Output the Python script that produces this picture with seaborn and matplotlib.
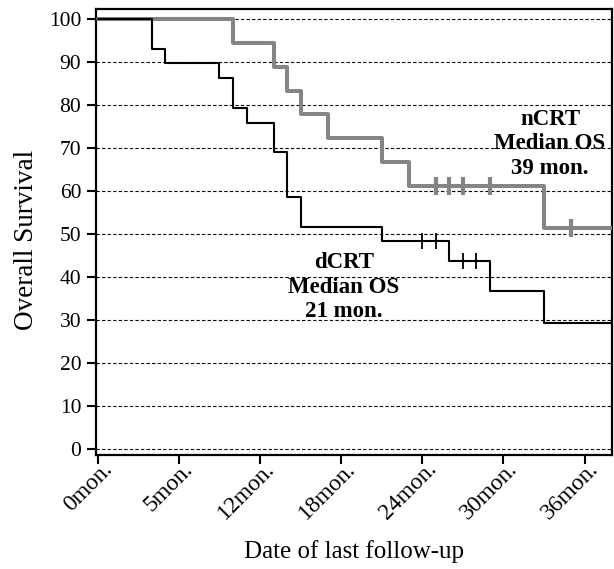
import matplotlib
matplotlib.use("Agg")
import matplotlib.pyplot as plt
import matplotlib.transforms as mtransforms
import pandas as pd
import seaborn as sns

# Kaplan-Meier steps (months, % surviving)
dcrt_time = [0, 4, 5, 9, 10, 11, 13, 14, 15, 21, 26, 29, 33, 38]
dcrt_surv = [100, 93.1, 89.7, 86.2, 79.3, 75.9, 69.0, 58.6, 51.7, 48.3, 43.8, 36.8, 29.4, 29.4]
dcrt_cens_time = [24, 25, 27, 28]
dcrt_cens_surv = [48.3, 48.3, 43.8, 43.8]

ncrt_time = [0, 10, 13, 14, 15, 17, 21, 23, 33, 38]
ncrt_surv = [100, 94.4, 88.9, 83.3, 77.8, 72.2, 66.7, 61.1, 51.3, 51.3]
ncrt_cens_time = [25, 26, 27, 29, 35]
ncrt_cens_surv = [61.1, 61.1, 61.1, 61.1, 51.3]

x_ticks = [0, 6, 12, 18, 24, 30, 36]
x_tick_labels = ["0mon.", "5mon.", "12mon.", "18mon.", "24mon.", "30mon.", "36mon."]
y_ticks = list(range(0, 101, 10))

sns.set_style("white")
plt.rcParams["font.family"] = ["Liberation Serif", "DejaVu Serif"]
plt.rcParams["text.color"] = "black"
plt.rcParams["axes.labelcolor"] = "black"
plt.rcParams["xtick.color"] = "black"
plt.rcParams["ytick.color"] = "black"

dcrt = pd.DataFrame({"time": dcrt_time, "surv": dcrt_surv})
ncrt = pd.DataFrame({"time": ncrt_time, "surv": ncrt_surv})
dcrt_c = pd.DataFrame({"time": dcrt_cens_time, "surv": dcrt_cens_surv})
ncrt_c = pd.DataFrame({"time": ncrt_cens_time, "surv": ncrt_cens_surv})

fig = plt.figure(figsize=(6.14, 5.69), dpi=100)
ax = fig.add_axes([0.156, 0.2004, 0.84, 0.7838])

ax.yaxis.grid(True, linestyle=(0, (3, 2)), color="black", linewidth=0.8)
ax.set_axisbelow(True)

sns.lineplot(data=ncrt, x="time", y="surv", drawstyle="steps-post",
             color="#858585", linewidth=2.9, ax=ax, zorder=3)
sns.scatterplot(data=ncrt_c, x="time", y="surv", marker="|", s=180,
                color="#858585", linewidth=3, ax=ax, zorder=3)
sns.lineplot(data=dcrt, x="time", y="surv", drawstyle="steps-post",
             color="black", linewidth=1.5, ax=ax, zorder=4)
sns.scatterplot(data=dcrt_c, x="time", y="surv", marker="|", s=120,
                color="black", linewidth=1.3, ax=ax, zorder=4)

ax.text(33.45, 79.0, "nCRT\nMedian OS\n39 mon.", ha="center", va="top",
        fontsize=16.5, fontweight="bold", linespacing=1.2)
ax.text(18.2, 45.7, "dCRT\nMedian OS\n21 mon.", ha="center", va="top",
        fontsize=16.5, fontweight="bold", linespacing=1.2)

ax.set_xlim(-0.15, 38)
ax.set_ylim(-1.4, 102.3)
ax.set_yticks(y_ticks)
ax.set_xticks(x_ticks)

ax.tick_params(axis="both", which="both", direction="out", length=6.5,
               width=1.5, color="black", labelsize=15.5, pad=4,
               bottom=True, left=True)
ax.set_xticklabels(x_tick_labels, rotation=45, ha="right", va="baseline",
                   rotation_mode="anchor", fontsize=17)
offset = mtransforms.ScaledTranslation(0.15, 0.0, fig.dpi_scale_trans)
for lbl in ax.get_xticklabels():
    lbl.set_transform(lbl.get_transform() + offset)

for sp in ax.spines.values():
    sp.set_linewidth(1.6)
    sp.set_color("black")

ax.set_xlabel("Date of last follow-up", fontsize=18, labelpad=12)
ax.set_ylabel("Overall Survival", fontsize=19.5)
ax.yaxis.set_label_coords(-0.111, 0.482)

fig.savefig("out.png", dpi=100)
